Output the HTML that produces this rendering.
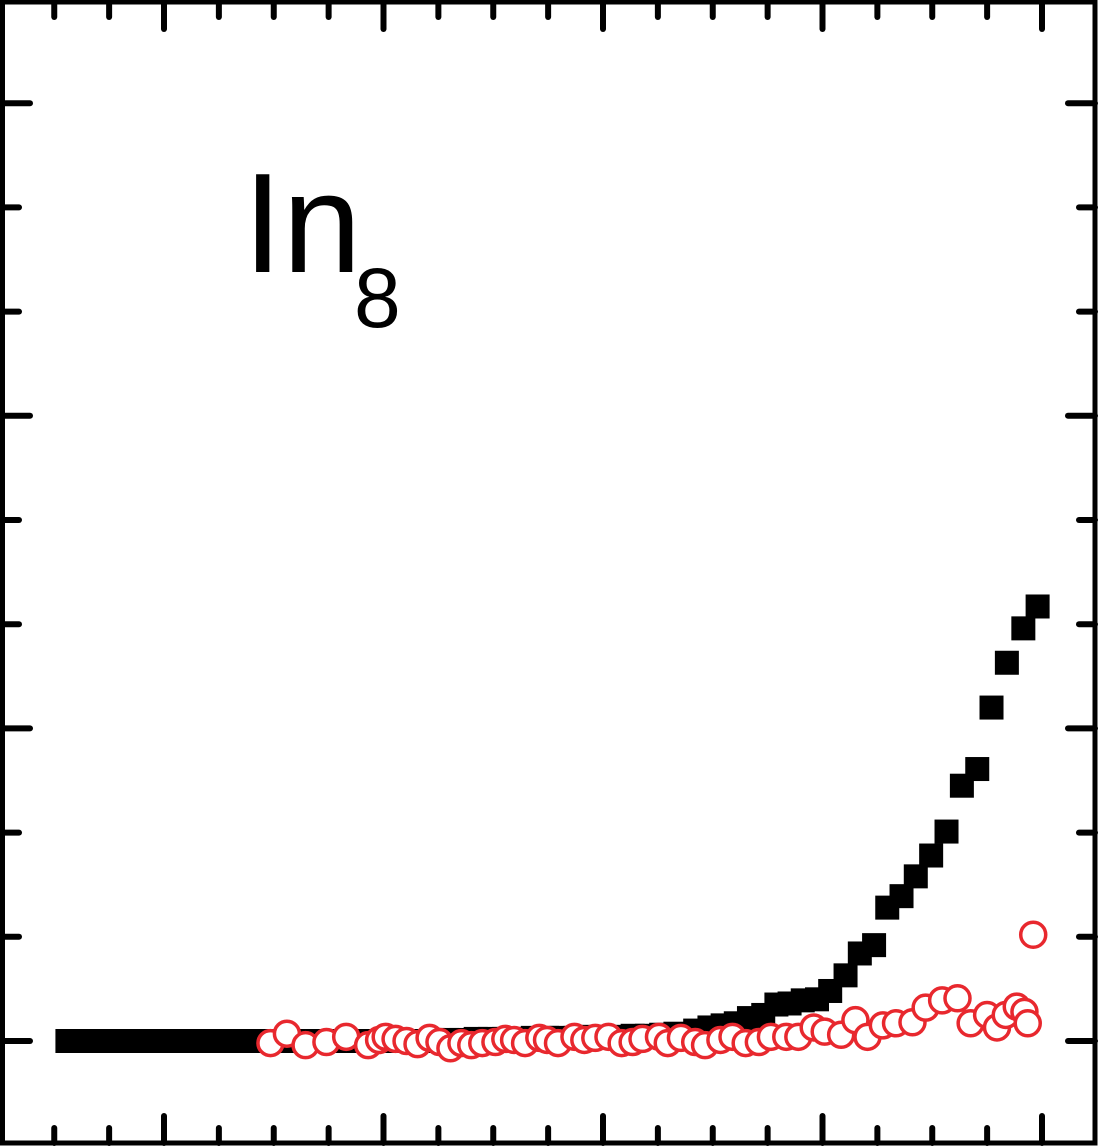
<!DOCTYPE html>
<html><head><meta charset="utf-8"><style>
html,body{margin:0;padding:0;background:#fff;}
svg{display:block;}
</style></head><body>
<svg id="chart" width="1098" height="1146" viewBox="0 0 1098 1146" xmlns="http://www.w3.org/2000/svg">
<rect x="0" y="0" width="1098" height="1146" fill="#fff"/>
<g id="ticks"></g>
<g id="black-series"></g>
<g id="red-series"></g>
<rect x="2.5" y="2" width="1092.5" height="1141" fill="none" stroke="#000" stroke-width="5"/>
<text x="243" y="272" font-family="Liberation Sans, Arial, sans-serif" font-size="142" fill="#000">In<tspan font-size="84" x="354" y="327">8</tspan></text>
</svg>
<script>
const xTickValues = [-1,-0.5,0,0.5,1,1.5,2,2.5,3,3.5,4,4.5,5,5.5,6,6.5,7,7.5,8];
const xMajorTicks = [0,2,4,6,8];
const yTickValues = [0,1,2,3,4,5,6,7,8,9];
const yMajorTicks = [0,3,6,9];

const blackX = [-0.88,-0.75,-0.62,-0.49,-0.36,-0.23,-0.10,0.03,0.16,0.29,0.42,0.55,0.68,0.81,0.94,1.06,1.18,1.30,1.42,1.54,1.67,1.80,1.93,2.06,2.19,2.32,2.45,2.58,2.71,2.84,2.97,3.10,3.23,3.36,3.49,3.62,3.75,3.88,4.01,4.14,4.27,4.40,4.53,4.66,
4.84,4.97,5.09,5.21,5.33,5.46,5.58,5.70,5.82,5.95,6.07,6.21,6.34,6.47,6.59,6.72,6.85,6.99,7.13,7.27,7.41,7.54,7.68,7.83,7.96];
const blackY = [0,0,0,0,0,0,0,0,0,0,0,0,0,0,0,0,0,0,0,0,0,0,0,0,0,0,0.01,0.01,0.01,0.02,0.02,0.02,0.02,0.03,0.03,0.03,0.03,0.04,0.04,0.04,0.05,0.05,0.06,0.07,
0.10,0.13,0.15,0.17,0.22,0.25,0.35,0.36,0.39,0.40,0.48,0.63,0.84,0.92,1.28,1.39,1.58,1.78,2.01,2.45,2.61,3.20,3.63,3.96,4.17];

const redX = [0.97,1.12,1.29,1.48,1.66,1.86,1.96,2.02,2.11,2.21,2.31,2.42,2.51,2.61,2.71,2.80,2.90,3.02,3.11,3.19,3.29,3.42,3.49,3.59,3.74,3.83,3.93,4.05,4.17,4.27,4.36,4.51,4.59,4.71,4.84,4.93,5.07,5.18,5.30,5.42,5.53,5.67,5.78,5.92,6.02,6.17,6.30,6.41,6.55,6.67,6.82,6.94,7.09,7.23,7.35,7.50,7.59,7.67,7.77,7.84,7.87,7.92];
const redY = [-0.02,0.07,-0.04,-0.01,0.04,-0.04,0.01,0.04,0.02,0.00,-0.03,0.03,-0.01,-0.07,-0.02,-0.04,-0.02,-0.01,0.02,0.01,-0.02,0.03,0.01,-0.02,0.04,0.01,0.03,0.04,-0.02,-0.01,0.02,0.04,-0.02,0.03,-0.01,-0.04,0.01,0.04,-0.02,-0.01,0.04,0.04,0.04,0.13,0.09,0.06,0.20,0.04,0.15,0.17,0.18,0.32,0.39,0.41,0.17,0.25,0.13,0.25,0.33,0.28,0.17,1.02];

const NS = 'http://www.w3.org/2000/svg';
function X(u){ return 164 + u * 109.75; }
function Y(v){ return 1041 - v * 104.2; }

const tg = document.getElementById('ticks');
function line(x1,y1,x2,y2,name){
  const l = document.createElementNS(NS,'line');
  l.setAttribute('x1',x1); l.setAttribute('y1',y1); l.setAttribute('x2',x2); l.setAttribute('y2',y2);
  l.setAttribute('stroke','#000'); l.setAttribute('stroke-width','6'); l.setAttribute('stroke-linecap','round');
  
  
  tg.appendChild(l);
}
xTickValues.forEach(v=>{
  const len = xMajorTicks.includes(v) ? 27 : 15;
  const x = X(v);
  line(x,1143,x,1143-len,'x-tick-bottom');
  line(x,2,x,2+len,'x-tick-top');
});
yTickValues.forEach(v=>{
  const len = yMajorTicks.includes(v) ? 27 : 16;
  const y = Y(v);
  line(3,y,3+len,y,'y-tick-left');
  line(1095,y,1095-len,y,'y-tick-right');
});

const bg = document.getElementById('black-series');
blackX.forEach((u,i)=>{
  const r = document.createElementNS(NS,'rect');
  r.setAttribute('x', X(u)-12); r.setAttribute('y', Y(blackY[i])-12);
  r.setAttribute('width',24); r.setAttribute('height',24); r.setAttribute('fill','#000');
  
  
  bg.appendChild(r);
});
const rg = document.getElementById('red-series');
redX.forEach((u,i)=>{
  const c = document.createElementNS(NS,'circle');
  c.setAttribute('cx', X(u)); c.setAttribute('cy', Y(redY[i])); c.setAttribute('r', 12.5);
  c.setAttribute('fill','#fff'); c.setAttribute('stroke','#e8282e'); c.setAttribute('stroke-width','3.5');
  
  
  rg.appendChild(c);
});
</script>
</body></html>
